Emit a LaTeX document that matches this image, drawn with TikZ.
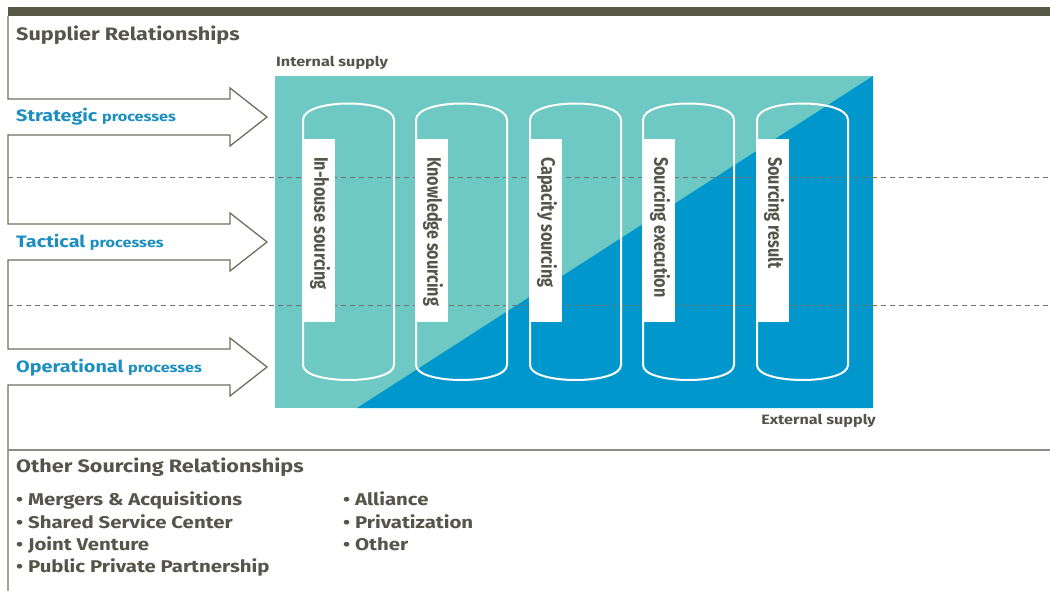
\documentclass[tikz,border=0pt]{standalone}
\usepackage{fontspec}
\setmainfont{Fira Sans}[FakeStretch=1.2]
\newfontfamily\condfont{Fira Sans}[FakeStretch=0.83]
\definecolor{bargray}{RGB}{88,88,70}
\definecolor{txtgray}{RGB}{85,85,75}
\definecolor{linegray}{RGB}{110,110,100}
\definecolor{dashgray}{RGB}{115,115,110}
\definecolor{procblue}{RGB}{28,143,192}
\definecolor{teal}{RGB}{110,200,196}
\definecolor{deepblue}{RGB}{0,152,204}
\begin{document}
\begin{tikzpicture}[x=1pt,y=-1pt,
  outline/.style={draw=linegray, line width=1.3pt, line join=miter},
  divider/.style={draw=dashgray, line width=0.9pt, dash pattern=on 5pt off 4pt},
  separator/.style={draw=linegray!80, line width=1.2pt},
  pillshape/.style={draw=white, line width=2pt},
  tag/.style={fill=white},
  heading/.style={font=\bfseries\fontsize{18}{20}\selectfont, text=txtgray, inner sep=0pt},
  proc/.style={font=\bfseries, text=procblue, inner sep=0pt},
  supply/.style={font=\bfseries\fontsize{13.5}{15}\selectfont, text=txtgray, inner sep=0pt},
  pilltext/.style={font=\condfont\bfseries\fontsize{19.5}{21}\selectfont, text=txtgray, inner sep=0pt},
  item/.style={font=\bfseries\fontsize{17}{19}\selectfont, text=txtgray, inner sep=0pt, anchor=base west}
]
\useasboundingbox (0,0) rectangle (1050,591);

% top bar
\fill[bargray] (8,7) rectangle (1050,16);

% frame line with the three process arrows cut into it
\draw[outline] (8,16) -- (8,99) -- (230,99) -- (230,88) -- (267,117) -- (230,146) -- (230,135) -- (8,135)
  -- (8,224) -- (230,224) -- (230,213) -- (267,242) -- (230,271) -- (230,260) -- (8,260)
  -- (8,349) -- (230,349) -- (230,338) -- (267,367) -- (230,396) -- (230,385) -- (8,385)
  -- (8,591);

% separator between the two parts
\draw[separator] (8,450) -- (1050,450);

% supply field: internal (teal) and external (blue)
\fill[teal] (275,76) rectangle (873,408);
\fill[deepblue] (873,76) -- (873,408) -- (357,408) -- cycle;

% level dividers
\draw[divider] (8,177) -- (1050,177);
\draw[divider] (8,305) -- (1050,305);

% sourcing pillars
\foreach \i/\L/\txt in {1/303/In-house sourcing, 2/416/Knowledge sourcing, 3/530/Capacity sourcing,
                        4/643/Sourcing execution, 5/757/Sourcing result}{
  \pgfmathsetmacro{\R}{\L+91}
  \draw[pillshape] (\L,365) -- (\L,120) .. controls (\L,98) and (\R,98) .. (\R,120)
    -- (\R,365) .. controls (\R,385) and (\L,385) .. (\L,365) -- cycle;
  \fill[tag] (\L-1,139) rectangle (\L+32,322);
  \node[pilltext, rotate=-90, anchor=west] (pill\i) at (\L+17,157) {\txt};
}

% headings and labels
\node[heading, anchor=base west] (supplier) at (16,41) {Supplier Relationships};
\node[proc, anchor=base west] (strategic) at (16,122) {\fontsize{16.5}{18}\selectfont Strategic \fontsize{13.5}{15}\selectfont processes};
\node[proc, anchor=base west] (tactical) at (16,247) {\fontsize{16.5}{18}\selectfont Tactical \fontsize{13.5}{15}\selectfont processes};
\node[proc, anchor=base west] (operational) at (16,372) {\fontsize{16.5}{18}\selectfont Operational \fontsize{13.5}{15}\selectfont processes};
\node[supply, anchor=base west] (internal) at (276,67) {Internal supply};
\node[supply, anchor=base east] (external) at (876,424) {External supply};

\node[heading, anchor=base west] (other) at (16,472) {Other Sourcing Relationships};
\node[item] (ma) at (16,505) {• Mergers \& Acquisitions};
\node[item] (ssc) at (16,528) {• Shared Service Center};
\node[item] (jv) at (16,550) {• Joint Venture};
\node[item] (ppp) at (16,572) {• Public Private Partnership};
\node[item] (alliance) at (343,505) {• Alliance};
\node[item] (priv) at (343,528) {• Privatization};
\node[item] (oth) at (343,550) {• Other};
\end{tikzpicture}
\end{document}
